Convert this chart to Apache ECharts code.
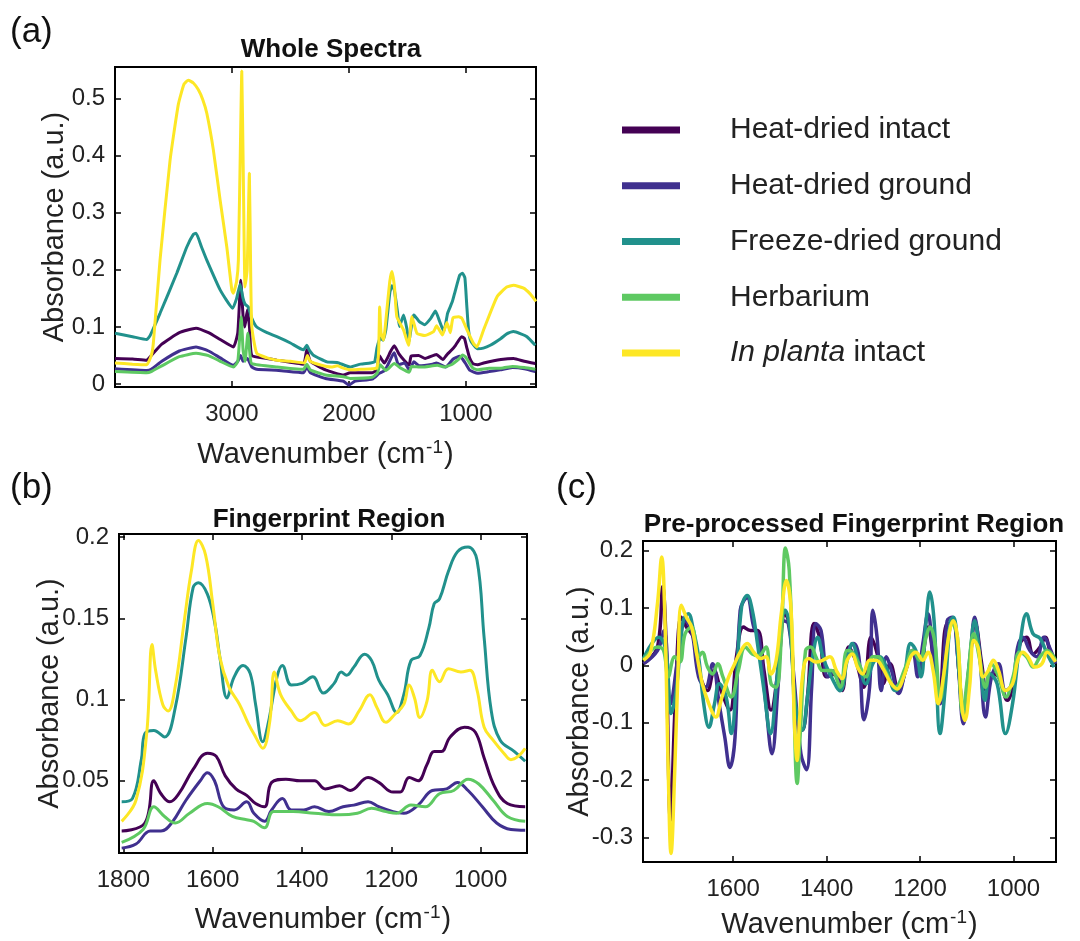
<!DOCTYPE html>
<html>
<head>
<meta charset="utf-8">
<script src="https://cdn.jsdelivr.net/npm/echarts@6/dist/echarts.min.js"></script>
<style>
  html, body { margin: 0; padding: 0; background: #fff; }
  #chart { width: 1080px; height: 941px; }
</style>
</head>
<body>
<div id="chart"></div>
<script>
// series names / colours (viridis)
const names = ['Heat-dried intact', 'Heat-dried ground', 'Freeze-dried ground', 'Herbarium', 'In planta intact'];
const colors = ['#440154', '#40308f', '#21918c', '#5ec962', '#fde725'];

// ---- (a) whole spectra : wavenumber / absorbance ----
const aWnIntact = [4000, 3850, 3729, 3690, 3600, 3450, 3307, 3200, 3100, 2988, 2950, 2925, 2905, 2890, 2868, 2850, 2830, 2700, 2616, 2389, 2360, 2330, 2200, 2046, 1989, 1800, 1761, 1740, 1716, 1696, 1644, 1612, 1572, 1524, 1484, 1468, 1404, 1348, 1252, 1196, 1160, 1120, 1088, 1036, 1012, 992, 968, 940, 900, 848, 700, 592, 500, 406];
const aAbsIntact = [0.045, 0.044, 0.042, 0.05, 0.07, 0.09, 0.098, 0.09, 0.078, 0.065, 0.09, 0.182, 0.12, 0.10, 0.13, 0.1, 0.05, 0.045, 0.042, 0.035, 0.06, 0.04, 0.025, 0.016, 0.02, 0.02, 0.025, 0.05, 0.042, 0.037, 0.057, 0.067, 0.053, 0.041, 0.034, 0.049, 0.05, 0.045, 0.052, 0.043, 0.052, 0.06, 0.068, 0.083, 0.08, 0.064, 0.046, 0.036, 0.034, 0.037, 0.043, 0.045, 0.04, 0.036];

const aWnGround = [4000, 3729, 3690, 3600, 3450, 3307, 3200, 3100, 2988, 2950, 2925, 2905, 2868, 2830, 2788, 2600, 2389, 2360, 2330, 2200, 2046, 2000, 1950, 1800, 1740, 1692, 1628, 1612, 1576, 1524, 1484, 1444, 1396, 1284, 1252, 1172, 1108, 1052, 1028, 996, 964, 900, 800, 706, 600, 500, 406];
const aAbsGround = [0.027, 0.024, 0.026, 0.04, 0.058, 0.065, 0.058, 0.046, 0.033, 0.04, 0.05, 0.04, 0.045, 0.03, 0.026, 0.024, 0.02, 0.03, 0.02, 0.01, 0.005, -0.002, 0.005, 0.009, 0.019, 0.024, 0.05, 0.055, 0.034, 0.037, 0.025, 0.039, 0.032, 0.035, 0.037, 0.03, 0.044, 0.049, 0.044, 0.034, 0.024, 0.019, 0.022, 0.025, 0.029, 0.027, 0.022];

const aWnFreeze = [4000, 3850, 3729, 3700, 3615, 3472, 3386, 3330, 3307, 3260, 3215, 3101, 2993, 2960, 2930, 2905, 2888, 2860, 2830, 2788, 2700, 2616, 2500, 2389, 2360, 2340, 2300, 2188, 2100, 1989, 1900, 1818, 1780, 1760, 1732, 1708, 1684, 1650, 1632, 1612, 1584, 1568, 1532, 1504, 1488, 1456, 1444, 1400, 1352, 1300, 1260, 1228, 1188, 1156, 1116, 1092, 1052, 1028, 1008, 992, 976, 956, 900, 850, 791, 700, 650, 592, 530, 477, 406];
const aAbsFreeze = [0.089, 0.083, 0.078, 0.085, 0.124, 0.194, 0.240, 0.262, 0.264, 0.24, 0.217, 0.165, 0.133, 0.15, 0.175, 0.15, 0.14, 0.135, 0.115, 0.1, 0.09, 0.083, 0.072, 0.06, 0.068, 0.06, 0.05, 0.039, 0.038, 0.03, 0.035, 0.037, 0.039, 0.063, 0.081, 0.077, 0.095, 0.16, 0.172, 0.165, 0.126, 0.101, 0.121, 0.097, 0.074, 0.114, 0.121, 0.11, 0.104, 0.115, 0.128, 0.112, 0.092, 0.124, 0.144, 0.162, 0.191, 0.194, 0.186, 0.138, 0.093, 0.075, 0.062, 0.063, 0.068, 0.08, 0.088, 0.092, 0.088, 0.083, 0.068];

const aWnHerb = [4000, 3729, 3690, 3600, 3450, 3307, 3200, 3100, 2988, 2950, 2920, 2905, 2888, 2864, 2845, 2830, 2616, 2389, 2360, 2330, 2200, 2046, 1989, 1800, 1756, 1732, 1684, 1612, 1556, 1484, 1464, 1372, 1244, 1188, 1124, 1060, 1028, 1004, 972, 940, 900, 800, 700, 600, 500, 406];
const aAbsHerb = [0.022, 0.02, 0.022, 0.032, 0.048, 0.054, 0.05, 0.04, 0.03, 0.04, 0.118, 0.06, 0.04, 0.089, 0.05, 0.036, 0.03, 0.026, 0.035, 0.025, 0.016, 0.013, 0.01, 0.012, 0.02, 0.034, 0.024, 0.036, 0.028, 0.021, 0.031, 0.03, 0.033, 0.03, 0.034, 0.044, 0.051, 0.048, 0.038, 0.028, 0.025, 0.028, 0.028, 0.031, 0.029, 0.026];

const aWnPlanta = [4000, 3850, 3729, 3690, 3672, 3615, 3529, 3458, 3410, 3373, 3330, 3287, 3250, 3215, 3159, 3101, 3044, 3001, 2988, 2960, 2945, 2925, 2916, 2905, 2888, 2870, 2851, 2840, 2830, 2788, 2700, 2616, 2500, 2380, 2355, 2330, 2250, 2150, 2100, 2049, 1989, 1900, 1800, 1761, 1745, 1737, 1725, 1704, 1680, 1650, 1632, 1610, 1590, 1533, 1490, 1461, 1418, 1350, 1276, 1250, 1200, 1162, 1133, 1110, 1060, 1033, 990, 934, 905, 848, 733, 650, 592, 506, 450, 400];
const aAbsPlanta = [0.037, 0.035, 0.034, 0.05, 0.072, 0.217, 0.392, 0.49, 0.525, 0.532, 0.527, 0.515, 0.498, 0.474, 0.41, 0.322, 0.24, 0.165, 0.159, 0.18, 0.217, 0.45, 0.548, 0.4, 0.17, 0.2, 0.369, 0.2, 0.1, 0.054, 0.046, 0.042, 0.04, 0.037, 0.05, 0.04, 0.034, 0.03, 0.032, 0.028, 0.025, 0.026, 0.027, 0.028, 0.06, 0.135, 0.09, 0.077, 0.12, 0.18, 0.197, 0.17, 0.118, 0.095, 0.068, 0.118, 0.089, 0.085, 0.092, 0.102, 0.086, 0.108, 0.09, 0.116, 0.118, 0.115, 0.095, 0.071, 0.065, 0.095, 0.153, 0.17, 0.173, 0.168, 0.158, 0.145];

// ---- (b) fingerprint region ----
const bWnIntact = [1804, 1752, 1732, 1716, 1696, 1676, 1644, 1612, 1592, 1572, 1548, 1524, 1504, 1484, 1468, 1436, 1404, 1372, 1348, 1316, 1292, 1252, 1228, 1196, 1180, 1160, 1140, 1120, 1104, 1088, 1068, 1036, 1012, 992, 968, 940, 900];
const bAbsIntact = [0.019, 0.024, 0.050, 0.042, 0.037, 0.042, 0.057, 0.067, 0.065, 0.053, 0.045, 0.041, 0.036, 0.034, 0.049, 0.051, 0.050, 0.050, 0.045, 0.047, 0.044, 0.052, 0.049, 0.043, 0.043, 0.052, 0.050, 0.060, 0.068, 0.068, 0.077, 0.083, 0.080, 0.064, 0.046, 0.036, 0.034];

const bWnGround = [1804, 1772, 1740, 1716, 1692, 1660, 1628, 1612, 1596, 1576, 1552, 1524, 1508, 1484, 1468, 1444, 1424, 1396, 1372, 1340, 1308, 1284, 1252, 1228, 1196, 1172, 1140, 1108, 1076, 1052, 1028, 996, 964, 932, 900];
const bAbsGround = [0.0085, 0.011, 0.019, 0.019, 0.024, 0.038, 0.050, 0.055, 0.050, 0.034, 0.032, 0.037, 0.030, 0.025, 0.032, 0.039, 0.032, 0.032, 0.034, 0.031, 0.034, 0.035, 0.037, 0.034, 0.031, 0.030, 0.035, 0.044, 0.045, 0.049, 0.044, 0.034, 0.024, 0.020, 0.0195];

const bWnFreeze = [1804, 1780, 1760, 1752, 1732, 1708, 1684, 1660, 1644, 1632, 1612, 1596, 1584, 1568, 1552, 1532, 1516, 1504, 1488, 1476, 1456, 1444, 1424, 1400, 1376, 1352, 1328, 1312, 1300, 1284, 1260, 1244, 1228, 1208, 1188, 1172, 1156, 1136, 1116, 1104, 1092, 1072, 1052, 1028, 1008, 992, 976, 956, 924, 900];
const bAbsFreeze = [0.037, 0.039, 0.063, 0.079, 0.081, 0.077, 0.095, 0.138, 0.169, 0.172, 0.165, 0.148, 0.126, 0.101, 0.114, 0.121, 0.116, 0.097, 0.074, 0.085, 0.114, 0.121, 0.109, 0.110, 0.114, 0.104, 0.110, 0.117, 0.115, 0.120, 0.128, 0.124, 0.112, 0.103, 0.092, 0.103, 0.124, 0.127, 0.144, 0.159, 0.162, 0.179, 0.191, 0.194, 0.186, 0.138, 0.093, 0.075, 0.068, 0.062];

const bWnHerb = [1804, 1756, 1732, 1708, 1684, 1652, 1612, 1588, 1556, 1524, 1508, 1484, 1464, 1420, 1372, 1316, 1276, 1244, 1212, 1188, 1156, 1124, 1092, 1060, 1028, 1004, 972, 940, 900];
const bAbsHerb = [0.012, 0.020, 0.034, 0.028, 0.024, 0.030, 0.036, 0.034, 0.028, 0.026, 0.025, 0.021, 0.031, 0.031, 0.030, 0.029, 0.030, 0.033, 0.031, 0.030, 0.035, 0.034, 0.042, 0.044, 0.051, 0.048, 0.038, 0.028, 0.025];

const bWnPlanta = [1804, 1772, 1748, 1736, 1728, 1712, 1700, 1684, 1664, 1648, 1632, 1616, 1600, 1584, 1564, 1540, 1520, 1504, 1488, 1472, 1462, 1448, 1424, 1404, 1372, 1348, 1320, 1296, 1272, 1248, 1232, 1212, 1192, 1172, 1160, 1148, 1136, 1120, 1108, 1092, 1072, 1044, 1024, 1008, 992, 972, 948, 932, 916, 900];
const bAbsPlanta = [0.025, 0.038, 0.079, 0.134, 0.118, 0.097, 0.093, 0.108, 0.148, 0.179, 0.198, 0.189, 0.159, 0.126, 0.108, 0.097, 0.085, 0.077, 0.070, 0.087, 0.117, 0.103, 0.093, 0.087, 0.092, 0.084, 0.087, 0.085, 0.093, 0.103, 0.095, 0.086, 0.091, 0.097, 0.109, 0.101, 0.089, 0.099, 0.118, 0.111, 0.119, 0.117, 0.118, 0.106, 0.083, 0.075, 0.067, 0.063, 0.065, 0.070];

// ---- (c) pre-processed fingerprint region ----
const cWnIntact = [1792, 1762, 1751, 1744, 1734, 1724, 1711, 1700, 1685, 1670, 1655, 1641, 1626, 1607, 1593, 1578, 1563, 1548, 1534, 1519, 1504, 1489, 1478, 1466, 1452, 1441, 1427, 1415, 1400, 1382, 1367, 1353, 1338, 1320, 1305, 1290, 1279, 1264, 1246, 1231, 1216, 1201, 1183, 1172, 1159, 1142, 1129, 1117, 1107, 1094, 1082, 1068, 1058, 1047, 1032, 1013, 999, 986, 972, 958, 943, 932, 921, 910];
const cAbsIntact = [0.003, 0.032, 0.137, 0.049, -0.270, -0.067, 0.084, 0.067, 0.049, -0.020, -0.044, -0.009, -0.044, -0.078, 0.015, 0.067, 0.061, 0.061, -0.009, -0.078, -0.009, 0.090, 0.067, -0.078, -0.113, -0.055, 0.073, 0.049, -0.020, -0.015, -0.044, 0.032, 0.009, -0.038, 0.049, 0.015, -0.032, 0.003, -0.044, -0.009, 0.026, -0.009, 0.067, 0.015, -0.061, 0.073, 0.073, -0.009, -0.090, 0.003, 0.073, 0.003, -0.044, -0.015, -0.020, -0.061, -0.026, 0.038, 0.049, 0.020, 0.032, 0.049, 0.023, 0.006];

const cWnGround = [1792, 1762, 1748, 1734, 1718, 1703, 1689, 1674, 1659, 1644, 1630, 1618, 1607, 1596, 1585, 1570, 1556, 1545, 1530, 1517, 1504, 1493, 1482, 1470, 1455, 1443, 1432, 1423, 1412, 1397, 1382, 1371, 1356, 1342, 1331, 1320, 1308, 1301, 1292, 1283, 1272, 1261, 1246, 1231, 1216, 1205, 1194, 1183, 1172, 1157, 1142, 1131, 1120, 1107, 1094, 1083, 1072, 1060, 1047, 1032, 1017, 1002, 991, 980, 965, 950, 935, 920, 910];
const cAbsGround = [0.003, 0.026, 0.061, -0.067, 0.015, 0.078, 0.061, -0.020, -0.038, 0.003, -0.067, -0.125, -0.178, -0.125, 0.096, 0.118, 0.067, 0.049, -0.067, -0.154, -0.038, 0.078, 0.073, -0.020, -0.154, -0.182, -0.038, 0.073, 0.061, -0.020, -0.009, -0.044, 0.020, 0.038, 0.015, -0.095, -0.038, 0.096, 0.049, -0.044, 0.015, -0.009, -0.049, -0.009, 0.026, -0.020, 0.038, 0.090, 0.015, -0.067, 0.078, 0.084, 0.020, -0.102, -0.009, 0.084, 0.015, -0.090, -0.020, 0.003, -0.044, -0.032, 0.032, 0.049, 0.026, 0.015, 0.049, 0.026, 0.003];

const cWnFreeze = [1792, 1759, 1744, 1733, 1722, 1707, 1696, 1685, 1674, 1663, 1652, 1640, 1630, 1615, 1604, 1593, 1582, 1570, 1559, 1548, 1534, 1520, 1508, 1497, 1489, 1478, 1467, 1452, 1441, 1430, 1419, 1408, 1393, 1371, 1356, 1345, 1331, 1316, 1301, 1286, 1272, 1253, 1235, 1220, 1209, 1198, 1187, 1179, 1170, 1157, 1146, 1135, 1128, 1117, 1107, 1094, 1083, 1072, 1061, 1050, 1035, 1017, 1002, 987, 972, 958, 943, 928, 913];
const cAbsFreeze = [0.012, 0.049, 0.026, -0.084, -0.044, 0.078, 0.090, 0.061, 0.015, -0.067, -0.108, -0.067, -0.032, -0.055, -0.119, -0.026, 0.102, 0.122, 0.096, 0.038, -0.044, -0.119, -0.038, 0.073, 0.096, 0.061, -0.067, -0.113, -0.055, 0.015, 0.049, 0.015, -0.015, -0.044, 0.009, 0.038, 0.003, -0.032, 0.003, 0.015, -0.003, -0.044, -0.020, 0.038, 0.026, -0.020, 0.078, 0.128, 0.078, -0.119, -0.038, 0.078, 0.084, -0.009, -0.090, 0.009, 0.078, 0.015, -0.061, -0.015, -0.032, -0.119, -0.067, 0.032, 0.090, 0.055, 0.047, 0.020, -0.003];

const cWnHerb = [1792, 1762, 1749, 1739, 1725, 1714, 1703, 1689, 1674, 1666, 1655, 1644, 1633, 1622, 1604, 1589, 1574, 1559, 1545, 1530, 1519, 1508, 1497, 1488, 1480, 1471, 1463, 1456, 1445, 1434, 1423, 1408, 1390, 1371, 1356, 1345, 1331, 1316, 1301, 1290, 1275, 1253, 1231, 1216, 1201, 1187, 1179, 1168, 1157, 1144, 1131, 1120, 1109, 1098, 1085, 1072, 1060, 1047, 1032, 1016, 1001, 987, 972, 958, 943, 928, 910];
const cAbsHerb = [0.009, 0.032, 0.026, -0.020, 0.015, 0.006, 0.055, 0.067, 0.015, 0.023, -0.003, -0.015, 0.003, -0.020, -0.055, -0.009, 0.032, 0.020, 0.017, 0.032, -0.032, -0.038, 0.049, 0.205, 0.166, -0.038, -0.206, -0.113, 0.026, 0.032, 0.015, -0.009, -0.009, -0.038, 0.026, 0.023, 0.003, -0.020, 0.015, 0.015, -0.009, -0.038, -0.003, 0.026, 0.009, 0.049, 0.067, 0.038, -0.061, 0.015, 0.073, 0.049, -0.084, -0.020, 0.055, 0.009, -0.038, 0.003, -0.020, -0.055, -0.020, 0.023, 0.015, -0.003, 0.015, 0.026, 0.009];

const cWnPlanta = [1792, 1777, 1762, 1753, 1746, 1739, 1733, 1725, 1718, 1711, 1700, 1689, 1677, 1666, 1652, 1637, 1626, 1611, 1600, 1585, 1570, 1556, 1541, 1530, 1519, 1508, 1497, 1486, 1476, 1469, 1463, 1458, 1449, 1438, 1423, 1408, 1393, 1379, 1367, 1356, 1345, 1334, 1323, 1308, 1294, 1279, 1264, 1249, 1235, 1220, 1209, 1194, 1183, 1172, 1161, 1150, 1139, 1129, 1120, 1111, 1104, 1094, 1085, 1076, 1065, 1054, 1043, 1032, 1017, 1002, 991, 980, 969, 954, 939, 928, 910];
const cAbsPlanta = [0.009, 0.023, 0.108, 0.189, 0.078, -0.183, -0.328, -0.183, -0.009, 0.105, 0.084, 0.067, 0.015, -0.032, -0.067, -0.090, -0.061, -0.023, -0.003, 0.023, 0.038, 0.023, 0.012, 0.015, -0.015, 0.009, 0.090, 0.148, 0.096, -0.096, -0.166, -0.096, -0.003, 0.012, 0.006, 0.009, 0.015, -0.009, -0.023, 0.009, 0.020, -0.003, -0.015, 0.009, 0.009, -0.006, -0.029, -0.041, -0.020, 0.015, 0.023, 0.009, 0.023, -0.009, -0.067, -0.020, 0.049, 0.078, 0.049, -0.067, -0.096, -0.038, 0.044, 0.032, -0.020, -0.009, 0.009, -0.009, -0.044, -0.032, 0.009, 0.023, 0.015, -0.003, 0.003, 0.023, 0.006];

// tick labels
const aXTicks = [1000, 2000, 3000];
const aYTicks = [0, 0.1, 0.2, 0.3, 0.4, 0.5];
const bXTicks = [1000, 1200, 1400, 1600, 1800];
const bYTicks = [0.05, 0.1, 0.15, 0.2];
const cXTicks = [1000, 1200, 1400, 1600];
const cYTicks = [-0.3, -0.2, -0.1, 0, 0.1, 0.2];

(function () {
  const chart = echarts.init(document.getElementById('chart'));
  const FONT = 'Liberation Sans, Arial, sans-serif';

  const panels = [
    { grid: { left: 115, top: 67, width: 421, height: 320 }, x: [400, 4000], y: [-0.005, 0.555], xt: aXTicks, yt: aYTicks, yGap: 46, xGap: 51, smooth: 0.15, lw: 3,
      data: [[aWnIntact, aAbsIntact], [aWnGround, aAbsGround], [aWnFreeze, aAbsFreeze], [aWnHerb, aAbsHerb], [aWnPlanta, aAbsPlanta]] },
    { grid: { left: 119, top: 534, width: 408, height: 319 }, x: [896, 1810], y: [0.0055, 0.202], xt: bXTicks, yt: bYTicks, yGap: 55, xGap: 50, smooth: 0.4, lw: 3,
      data: [[bWnIntact, bAbsIntact], [bWnGround, bAbsGround], [bWnFreeze, bAbsFreeze], [bWnHerb, bAbsHerb], [bWnPlanta, bAbsPlanta]] },
    { grid: { left: 643, top: 541, width: 413, height: 321 }, x: [909, 1793], y: [-0.343, 0.217], xt: cXTicks, yt: cYTicks, yGap: 49, xGap: 46, smooth: 0.4, lw: 3.5,
      data: [[cWnIntact, cAbsIntact], [cWnGround, cAbsGround], [cWnFreeze, cAbsFreeze], [cWnHerb, cAbsHerb], [cWnPlanta, cAbsPlanta]] }
  ];

  const axisLine = { show: true, onZero: false, lineStyle: { color: '#000', width: 2 } };
  const xAxes = [];
  const yAxes = [];
  const series = [];

  panels.forEach((p, gi) => {
    [false, true].forEach(mirror => {
      xAxes.push({
        type: 'value', gridIndex: gi, position: mirror ? 'top' : 'bottom', inverse: true,
        min: p.x[0], max: p.x[1],
        axisLine: axisLine,
        axisTick: { show: true, inside: true, length: 6, customValues: p.xt, lineStyle: { color: '#000', width: 1.5 } },
        axisLabel: { show: !mirror, customValues: p.xt, formatter: v => String(v), color: '#222', fontSize: 24, fontFamily: FONT, margin: 15 },
        splitLine: { show: false },
        name: mirror ? '' : 'Wavenumber (cm{sup|-1})',
        nameLocation: 'middle', nameGap: p.xGap,
        nameTextStyle: { color: '#222', fontSize: 29, fontFamily: FONT,
          rich: { sup: { fontSize: 19, fontFamily: FONT, color: '#222', verticalAlign: 'top', padding: [0, 1, 14, 1] } } }
      });
      yAxes.push({
        type: 'value', gridIndex: gi, position: mirror ? 'right' : 'left',
        min: p.y[0], max: p.y[1],
        axisLine: axisLine,
        axisTick: { show: true, inside: true, length: 6, customValues: p.yt, lineStyle: { color: '#000', width: 1.5 } },
        axisLabel: { show: !mirror, customValues: p.yt, formatter: v => String(v), color: '#222', fontSize: 24, fontFamily: FONT, margin: 10 },
        splitLine: { show: false },
        name: mirror ? '' : 'Absorbance (a.u.)',
        nameLocation: 'middle', nameGap: p.yGap, nameMoveOverlap: false,
        nameTextStyle: { color: '#222', fontSize: 29, fontFamily: FONT }
      });
    });

    p.data.forEach((d, si) => {
      series.push({
        type: 'line', name: names[si],
        xAxisIndex: gi * 2, yAxisIndex: gi * 2,
        data: d[0].map((w, i) => [w, d[1][i]]),
        showSymbol: false, smooth: p.smooth, clip: true,
        lineStyle: { color: colors[si], width: p.lw },
        itemStyle: { color: colors[si] },
        z: 2 + si
      });
    });
  });

  const panelLabel = { fontSize: 35, fontWeight: 'normal', color: '#111', fontFamily: FONT };
  const panelTitle = { fontSize: 26, fontWeight: 'bold', color: '#111', fontFamily: FONT };

  chart.setOption({
    backgroundColor: '#fff',
    animation: false,
    textStyle: { fontFamily: FONT },
    title: [
      { text: '(a)', left: 5, top: 10, textStyle: panelLabel },
      { text: '(b)', left: 5, top: 466, textStyle: panelLabel },
      { text: '(c)', left: 551, top: 466, textStyle: panelLabel },
      { text: 'Whole Spectra', left: 326, top: 32, textAlign: 'center', textStyle: panelTitle },
      { text: 'Fingerprint Region', left: 324, top: 502, textAlign: 'center', textStyle: panelTitle },
      { text: 'Pre-processed Fingerprint Region', left: 849, top: 507, textAlign: 'center', textStyle: panelTitle }
    ],
    legend: {
      data: names, orient: 'vertical', left: 622, top: 115, padding: 0,
      icon: 'rect', itemWidth: 58, itemHeight: 7, itemGap: 25.75,
      formatter: n => (n === 'In planta intact' ? '{it|In planta} intact' : n),
      textStyle: { fontSize: 30, color: '#222', fontFamily: FONT, lineHeight: 28, padding: [0, 0, 0, 45],
        rich: { it: { fontStyle: 'italic', fontSize: 30, fontFamily: FONT, color: '#222' } } }
    },
    grid: panels.map(p => Object.assign({ show: true, borderColor: '#000', borderWidth: 2, backgroundColor: '#fff' }, p.grid)),
    xAxis: xAxes,
    yAxis: yAxes,
    series: series
  });

  window.addEventListener('resize', () => chart.resize());
})();
</script>
</body>
</html>
